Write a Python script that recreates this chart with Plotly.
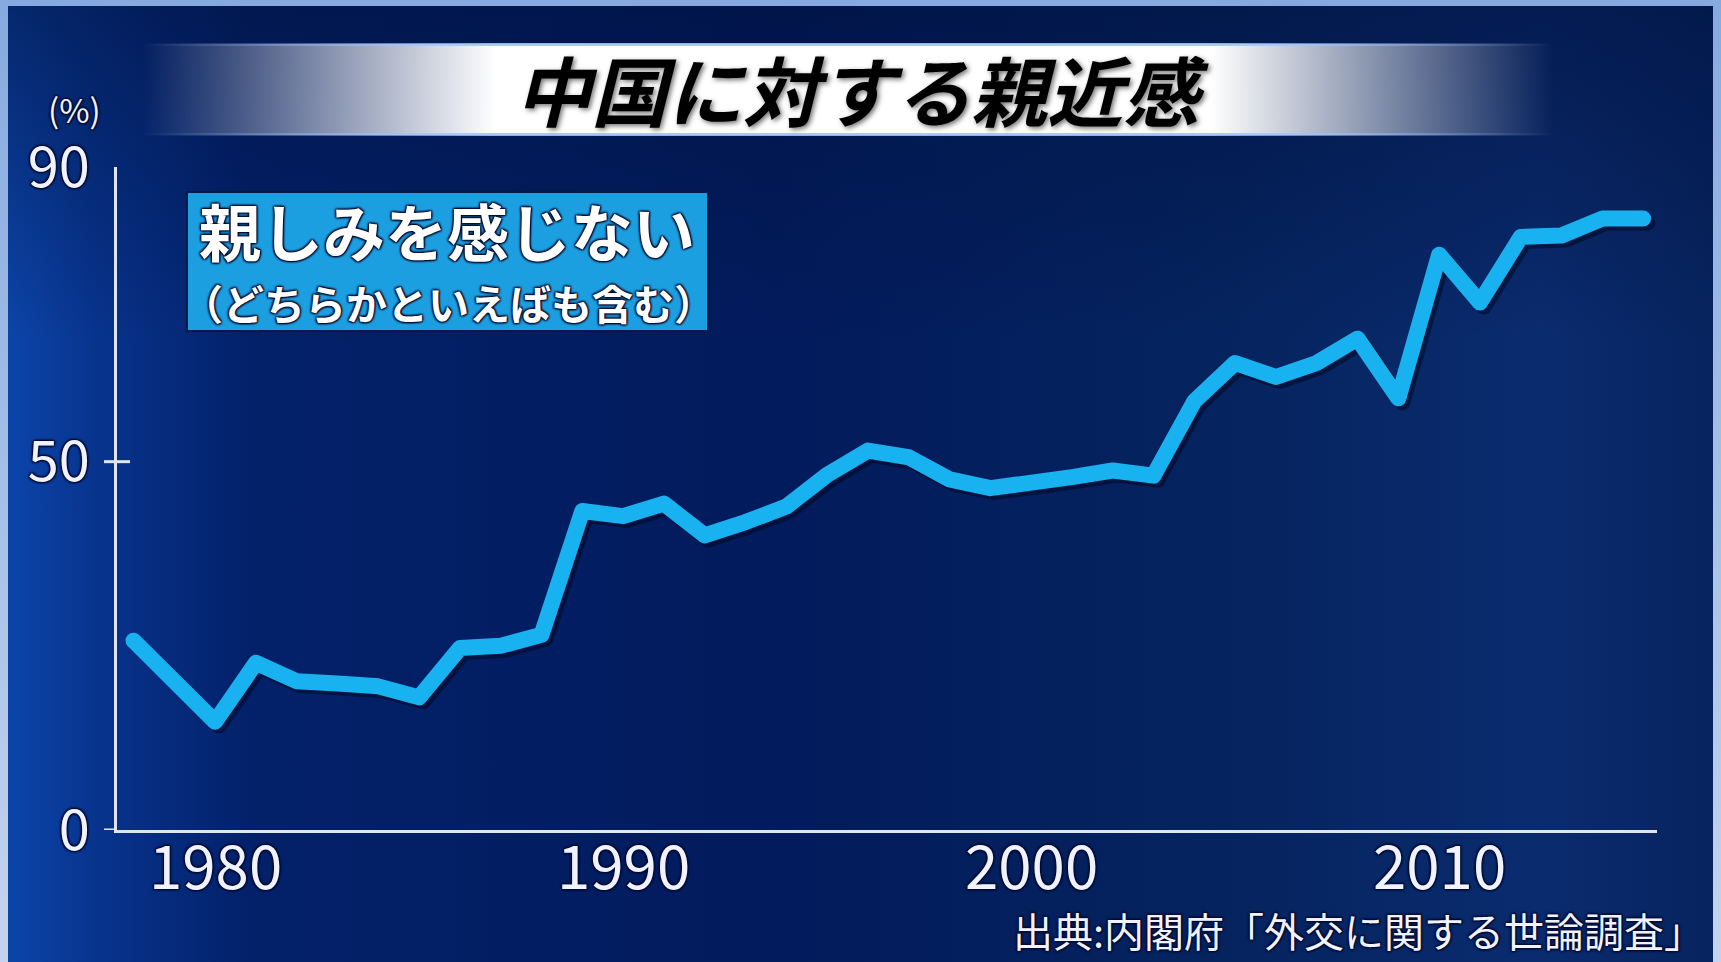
import base64
import plotly.graph_objects as go

# ---------------- data ----------------
years = list(range(1978, 2016))
not_close = [25.7, 20.2, 14.7, 22.7, 20.2, 19.9, 19.5, 18.0, 24.7, 25.0, 26.5,
             43.3, 42.6, 44.3, 40.0, 41.8, 43.9, 48.2, 51.5, 50.6, 47.6, 46.4,
             47.0, 47.9, 48.8, 48.1, 58.2, 63.4, 61.5, 63.4, 66.7, 58.6, 78.1,
             71.6, 80.5, 80.7, 83.0, 83.0]
x_ticks = [1980, 1990, 2000, 2010]
y_ticks = [0, 50, 90]
y_tick_marks = [0, 50]

title_text = "中国に対する親近感"
legend_main = "親しみを感じない"
legend_sub = "（どちらかといえばも含む）"
unit_text = "(%)"
source_text = "出典:内閣府「外交に関する世論調査」"

# ---------------- layout geometry ----------------
W, H = 1721, 962
L, R, T, B = 117, 64, 167, 132
PW, PH = W - L - R, H - T - B
X_RANGE = [1977.595, 2015.34]
Y_RANGE = [0, 90]
px_per_year = PW / (X_RANGE[1] - X_RANGE[0])
px_per_unit = PH / (Y_RANGE[1] - Y_RANGE[0])
SH = 4  # shadow offset in px

FONT = "Noto Sans CJK JP"
LINE_COLOR = "#19b2f0"
AXIS_COLOR = "#dfe5f5"
TEXT_COLOR = "#f0f3ff"


def px_x(p):
    return (p - L) / PW


def px_y(p):
    return (H - B - p) / PH


# ---------------- background svg ----------------
svg = f'''<svg xmlns="http://www.w3.org/2000/svg" width="{W}" height="{H}" viewBox="0 0 {W} {H}" preserveAspectRatio="none">
<defs>
<linearGradient id="fr" x1="0" y1="0" x2="0" y2="1">
<stop offset="0" stop-color="#86aadf"/><stop offset="1" stop-color="#c4d4ee"/></linearGradient>
<linearGradient id="bg" x1="0" y1="0" x2="1" y2="0">
<stop offset="0" stop-color="#0c45aa"/>
<stop offset="0.05" stop-color="#08348e"/>
<stop offset="0.14" stop-color="#03216a"/>
<stop offset="0.45" stop-color="#021b5c"/>
<stop offset="0.72" stop-color="#05245f"/>
<stop offset="0.9" stop-color="#0a2b6e"/>
<stop offset="1" stop-color="#07245f"/></linearGradient>
<linearGradient id="vt" x1="0" y1="0" x2="0" y2="1">
<stop offset="0" stop-color="#00103c" stop-opacity="0.55"/>
<stop offset="0.35" stop-color="#00103c" stop-opacity="0.0"/>
<stop offset="1" stop-color="#00103c" stop-opacity="0.0"/></linearGradient>
<linearGradient id="band" x1="0" y1="0" x2="1" y2="0">
<stop offset="0" stop-color="#ffffff" stop-opacity="0"/>
<stop offset="0.25" stop-color="#ffffff" stop-opacity="1"/>
<stop offset="0.757" stop-color="#ffffff" stop-opacity="1"/>
<stop offset="1" stop-color="#ffffff" stop-opacity="0"/></linearGradient>
<linearGradient id="bandline" x1="0" y1="0" x2="1" y2="0">
<stop offset="0" stop-color="#9fc2ff" stop-opacity="0"/>
<stop offset="0.25" stop-color="#9fc2ff" stop-opacity="0.9"/>
<stop offset="0.757" stop-color="#9fc2ff" stop-opacity="0.9"/>
<stop offset="1" stop-color="#9fc2ff" stop-opacity="0"/></linearGradient>
</defs>
<rect x="0" y="0" width="{W}" height="{H}" fill="url(#fr)"/>
<rect x="8" y="6" width="1705" height="956" fill="url(#bg)"/>
<rect x="8" y="6" width="1705" height="956" fill="url(#vt)"/>
<rect x="143" y="44" width="1410" height="91" fill="url(#band)"/>
<rect x="143" y="43" width="1410" height="3" fill="url(#bandline)"/>
<rect x="143" y="133" width="1410" height="3" fill="url(#bandline)"/>
</svg>'''
svg_uri = "data:image/svg+xml;base64," + base64.b64encode(svg.encode("utf-8")).decode("ascii")

fig = go.Figure()

# soft drop shadow of the line (same data, on a slightly shifted hidden overlay axis pair)
fig.add_trace(go.Scatter(
    x=years, y=not_close, mode="lines", xaxis="x2", yaxis="y2",
    line=dict(color="rgba(0,6,30,0.5)", width=16),
    hoverinfo="skip", showlegend=False))

# main line, on a hidden overlay axis pair with the true ranges (drawn above the shadow)
fig.add_trace(go.Scatter(
    x=years, y=not_close, mode="lines", xaxis="x3", yaxis="y3",
    line=dict(color=LINE_COLOR, width=16),
    showlegend=False, name=legend_main))

shapes = []
# legend box
shapes.append(dict(type="rect", xref="paper", yref="paper",
                   x0=px_x(187), x1=px_x(708), y0=px_y(331), y1=px_y(192),
                   fillcolor="#1c9fe0", line=dict(color="#06174a", width=2),
                   layer="above"))
# tick marks on y axis (outside, and crossing for 50)
for v in y_tick_marks:
    shapes.append(dict(type="line", xref="paper", yref="y",
                       x0=px_x(L - 13), x1=0, y0=v, y1=v,
                       line=dict(color=AXIS_COLOR, width=3)))
shapes.append(dict(type="line", xref="paper", yref="y",
                   x0=0, x1=px_x(L + 13), y0=50, y1=50,
                   line=dict(color=AXIS_COLOR, width=3)))

text_shadow = "1px 1px 2px #000a30, -1px -1px 2px #000a30, 1px -1px 2px #000a30, -1px 1px 2px #000a30"

annotations = [
    dict(text=title_text, xref="paper", yref="paper", x=px_x(862), y=px_y(88),
         xanchor="center", yanchor="middle", showarrow=False,
         font=dict(family=FONT, size=76, color="#000000", weight=700, style="italic",
                   shadow="2px 2px 5px rgba(0,0,0,0.55)")),
    dict(text=legend_main, xref="paper", yref="paper", x=px_x(447), y=px_y(230),
         xanchor="center", yanchor="middle", showarrow=False,
         font=dict(family=FONT, size=62, color="#ffffff", weight=700, shadow=text_shadow)),
    dict(text=legend_sub, xref="paper", yref="paper", x=px_x(448), y=px_y(302),
         xanchor="center", yanchor="middle", showarrow=False,
         font=dict(family=FONT, size=41, color="#ffffff", weight=700, shadow=text_shadow)),
    dict(text=unit_text, xref="paper", yref="paper", x=px_x(74), y=px_y(109),
         xanchor="center", yanchor="middle", showarrow=False,
         font=dict(family=FONT, size=33, color=TEXT_COLOR, shadow=text_shadow)),
    dict(text=source_text, xref="paper", yref="paper", x=px_x(1011), y=px_y(930),
         xanchor="left", yanchor="middle", showarrow=False,
         font=dict(family=FONT, size=40, color=TEXT_COLOR, shadow=text_shadow)),
]
# x tick labels, placed at the data positions of the ticks
for v in x_ticks:
    annotations.append(dict(text=str(v), xref="x", yref="paper", x=v, y=px_y(862),
                            xanchor="center", yanchor="middle", showarrow=False,
                            font=dict(family=FONT, size=60, color=TEXT_COLOR, shadow=text_shadow)))

hidden = dict(visible=False, fixedrange=True, showgrid=False, zeroline=False)

fig.update_layout(
    width=W, height=H,
    margin=dict(l=L, r=R, t=T, b=B, pad=0),
    paper_bgcolor="#86aadf",
    plot_bgcolor="rgba(0,0,0,0)",
    showlegend=False,
    images=[dict(source=svg_uri, xref="paper", yref="paper",
                 x=-L / PW, y=1 + T / PH, sizex=W / PW, sizey=H / PH,
                 xanchor="left", yanchor="top", sizing="stretch", layer="below")],
    xaxis=dict(range=X_RANGE, tickvals=x_ticks, showticklabels=False,
               showgrid=False, zeroline=False, showline=True, linecolor=AXIS_COLOR,
               linewidth=3, ticks="", fixedrange=True),
    yaxis=dict(range=Y_RANGE, tickvals=y_ticks, ticktext=[str(v) for v in y_ticks],
               showgrid=False, zeroline=False, showline=True, linecolor=AXIS_COLOR,
               linewidth=3, ticks="", ticklabelstandoff=13,
               tickfont=dict(family=FONT, size=56, color=TEXT_COLOR, shadow=text_shadow),
               fixedrange=True),
    xaxis2=dict(range=[X_RANGE[0] - SH / px_per_year, X_RANGE[1] - SH / px_per_year],
                overlaying="x", **hidden),
    yaxis2=dict(range=[Y_RANGE[0] + SH / px_per_unit, Y_RANGE[1] + SH / px_per_unit],
                overlaying="y", **hidden),
    xaxis3=dict(range=X_RANGE, overlaying="x", **hidden),
    yaxis3=dict(range=Y_RANGE, overlaying="y", **hidden),
    shapes=shapes,
    annotations=annotations,
)

post = ("document.body.style.margin='0';document.body.style.overflow='hidden';"
        "document.querySelectorAll('.scatterlayer .js-line').forEach(p=>"
        "(p.style.strokeLinejoin='round', p.style.strokeLinecap='round'));")

fig.write_html("out.html", config=dict(displayModeBar=False), post_script=post)
